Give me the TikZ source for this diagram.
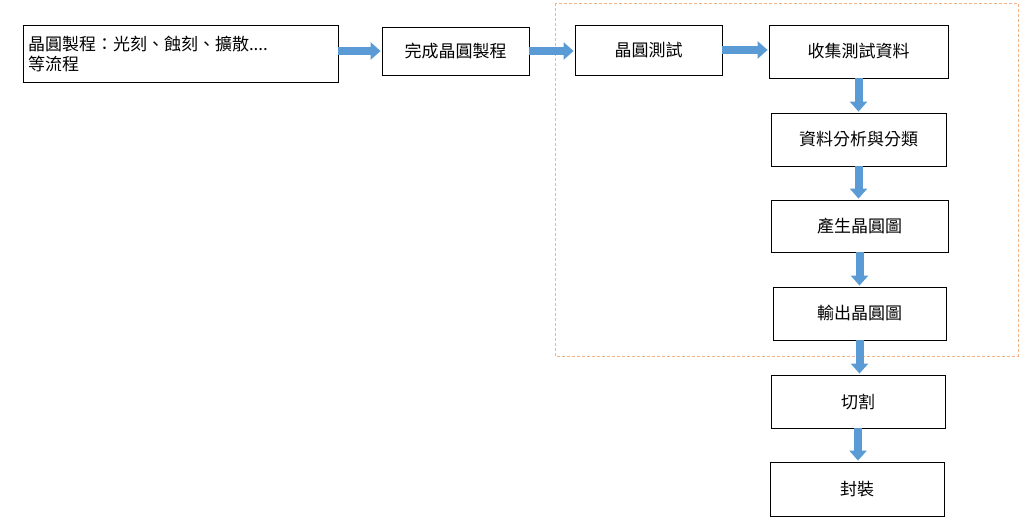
\documentclass[tikz,border=0pt]{standalone}
\usepackage{fontspec}
\setmainfont{Noto Sans CJK TC}
\usetikzlibrary{arrows.meta}
\definecolor{arr}{HTML}{5B9BD5}
\definecolor{dashc}{HTML}{F4B183}
\begin{document}
\begin{tikzpicture}[x=1pt,y=-1pt,
  box/.style={draw=black,line width=0.8pt,fill=white,font=\fontsize{17}{20}\selectfont,inner sep=0pt},
  ar/.style={draw=arr,line width=8pt,-{Triangle[length=10pt,width=17pt]},shorten >=1pt}]
\useasboundingbox (0,0) rectangle (1024,524);
\draw[draw=dashc,densely dashed,line width=0.8pt] (555,3) rectangle (1018,356);
\node[box,minimum width=315,minimum height=57,align=left,text width=305] (a) at (180.5,53.5) {晶圓製程：光刻、蝕刻、擴散....\\等流程};
\node[box,minimum width=147,minimum height=48] (b) at (455.5,51) {完成晶圓製程};
\node[box,minimum width=147,minimum height=50] (c) at (648.5,50) {晶圓測試};
\node[box,minimum width=179,minimum height=53] (d) at (858.5,51.5) {收集測試資料};
\node[box,minimum width=175,minimum height=53] (e) at (858.5,139.5) {資料分析與分類};
\node[box,minimum width=177,minimum height=52] (f) at (859.5,226) {產生晶圓圖};
\node[box,minimum width=173,minimum height=53] (g) at (859.5,313.5) {輸出晶圓圖};
\node[box,minimum width=174,minimum height=53] (h) at (858,401.5) {切割};
\node[box,minimum width=174,minimum height=54] (i) at (857,489) {封裝};
\draw[ar] (a.east|-b) -- (b.west);
\draw[ar] (b) -- (b-|c.west);
\draw[ar] (c) -- (c-|d.west);
\draw[ar] (d) -- (d|-e.north);
\draw[ar] (e) -- (e|-f.north);
\draw[ar] (f) -- (f|-g.north);
\draw[ar] (g) -- (g|-h.north);
\draw[ar] (h) -- (h|-i.north);
\end{tikzpicture}
\end{document}
